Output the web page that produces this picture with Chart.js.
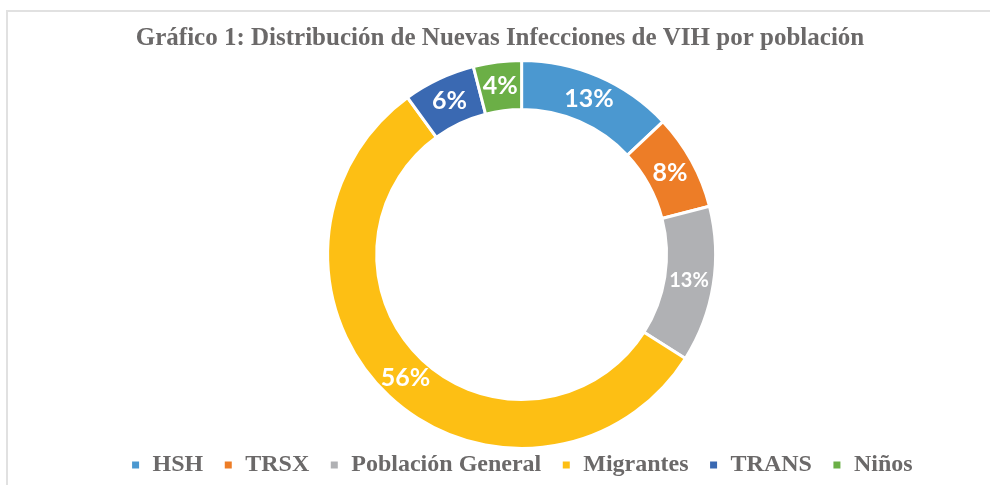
<!DOCTYPE html>
<html>
<head>
<meta charset="utf-8">
<script src="https://cdn.jsdelivr.net/npm/chart.js@4"></script>
<style>
  body { margin: 0; background: #fff; }
  #wrap { position: relative; width: 990px; height: 485px; overflow: hidden; }
  #frame { position: absolute; left: 6px; top: 10px; width: 1000px; height: 500px;
           border-left: 2px solid #e1e1e1; border-top: 2px solid #e1e1e1; }
  #grafico { position: absolute; left: 0; top: 0; }
</style>
</head>
<body>
<div id="wrap">
  <div id="frame"></div>
  <canvas id="grafico" width="990" height="485"></canvas>
</div>
<script>
var poblaciones = ["HSH", "TRSX", "Población General", "Migrantes", "TRANS", "Niños"];
var porcentajes = [13, 8, 13, 56, 6, 4];
var colores = ["#4b98d0", "#ed7d27", "#b0b1b4", "#fdbf14", "#3a69b2", "#6baf46"];

var textoGris = "#6b6969";

// white % labels in the middle of each ring segment
var etiquetas = {
  id: "etiquetas",
  afterDatasetsDraw: function (chart) {
    var ctx = chart.ctx;
    var meta = chart.getDatasetMeta(0);
    ctx.save();
    ctx.fillStyle = "#fff";
    ctx.textAlign = "center";
    ctx.textBaseline = "middle";
    meta.data.forEach(function (arc, i) {
      var p = arc.getCenterPoint();
      ctx.font = i === 2 ? "bold 20px Lato" : "bold 25px Lato";
      ctx.fillText(porcentajes[i] + "%", p.x, p.y);
    });
    ctx.restore();
  }
};

new Chart(document.getElementById("grafico"), {
  type: "doughnut",
  data: {
    labels: poblaciones,
    datasets: [{
      data: porcentajes,
      backgroundColor: colores,
      borderColor: "#fff",
      borderWidth: 3,
      radius: 194,
      cutout: "74.7%",
      clip: false
    }]
  },
  options: {
    responsive: false,
    animation: false,
    events: [],
    layout: { padding: { left: 10, right: 0, top: 0, bottom: -2 } },
    plugins: {
      title: {
        display: true,
        text: "Gráfico 1: Distribución de Nuevas Infecciones de VIH por población",
        color: textoGris,
        font: { family: "Liberation Serif", size: 25, weight: "bold" },
        padding: { top: 24, bottom: 22 }
      },
      // empty box on the left, only to push the ring a bit to the right
      subtitle: {
        display: true,
        position: "left",
        text: " ",
        color: "rgba(0,0,0,0)",
        font: { size: 1 },
        padding: { top: 42, bottom: 0 }
      },
      legend: {
        position: "bottom",
        fullSize: false,
        labels: {
          color: textoGris,
          font: { family: "Liberation Serif", size: 24, weight: "bold" },
          boxWidth: 10,
          boxHeight: 10,
          padding: 20
        }
      },
      tooltip: { enabled: false }
    }
  },
  plugins: [etiquetas]
});
</script>
</body>
</html>
